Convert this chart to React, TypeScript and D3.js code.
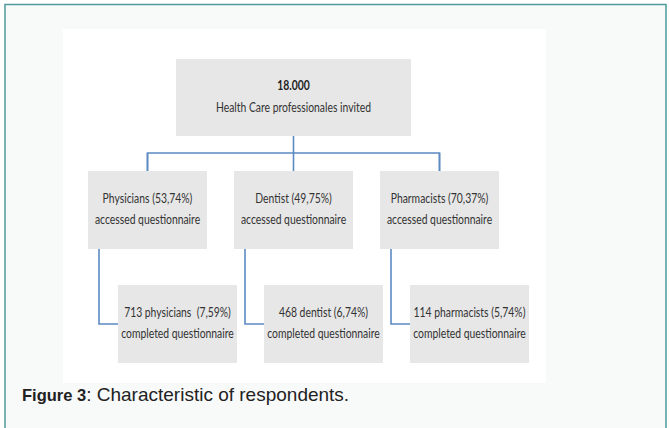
import { useEffect, useRef } from "react";
import * as d3 from "d3";

// flow chart values
const rootCount = "18.000";
const rootLabel = "Health Care professionales invited";
const groups = ["Physicians", "Dentist", "Pharmacists"];
const accessedPct = ["53,74%", "49,75%", "70,37%"];
const completedLabel = ["713 physicians  (7,59%)", "468 dentist (6,74%)", "114 pharmacists (5,74%)"];
const caption = ": Characteristic of respondents.";

const W = 669;
const H = 428;

export default function App() {
  const ref = useRef<SVGSVGElement>(null);

  useEffect(() => {
    document.body.style.margin = "0";
    const svg = d3.select(ref.current);
    svg.selectAll("*").remove();

    const font = "Lato, 'Noto Sans', sans-serif";
    const squeeze = 0.83; // box font is narrow (calibri-like)
    const boxFill = "#e7e7e7";
    const lineColor = "#5b8bc2";
    const textColor = "#333";

    // page background + border
    svg.append("rect").attr("x", 0).attr("y", 0).attr("width", W).attr("height", H).attr("fill", "#fff");
    svg.append("rect").attr("x", 5).attr("y", 4.5).attr("width", 661).attr("height", 440)
      .attr("fill", "#f8fafa").attr("stroke", "#4f9a9a").attr("stroke-width", 1.5);
    svg.append("rect").attr("x", 63).attr("y", 29).attr("width", 483).attr("height", 354).attr("fill", "#fff");

    const x = d3.scalePoint<string>().domain(groups).range([147.5, 439.5]);
    const bw = 119, bh = 78;
    const midY = 171, lowY = 285, lowOff = 30;

    const g = svg.append("g");

    const label = (cx: number, y: number, txt: string, bold = false) =>
      g.append("text")
        .attr("transform", `translate(${cx},${y}) scale(${squeeze},1)`)
        .attr("text-anchor", "middle")
        .attr("font-family", font).attr("font-size", 12.5)
        .attr("font-weight", bold ? "bold" : "normal")
        .attr("fill", bold ? "#222" : textColor)
        .style("white-space", "pre")
        .text(txt);

    // connectors
    const rootX = 293.5;
    g.append("line").attr("x1", rootX).attr("x2", rootX).attr("y1", 136).attr("y2", 153)
      .attr("stroke", lineColor).attr("stroke-width", 1.6);
    g.append("path")
      .attr("d", `M${x(groups[0])},${midY} V153 H${x(groups[groups.length - 1])} V${midY}`)
      .attr("fill", "none").attr("stroke", lineColor).attr("stroke-width", 1.6);
    groups.forEach((d) => {
      const cx = x(d)!;
      g.append("line").attr("x1", cx).attr("x2", cx).attr("y1", 153).attr("y2", midY)
        .attr("stroke", lineColor).attr("stroke-width", 1.6);
      const left = cx - bw / 2;
      g.append("path")
        .attr("d", `M${left + 11},${midY + bh} V${lowY + 39} H${left + lowOff}`)
        .attr("fill", "none").attr("stroke", lineColor).attr("stroke-width", 1.6);
    });

    // root box
    g.append("rect").attr("x", 176).attr("y", 59).attr("width", 235).attr("height", 77).attr("fill", boxFill);
    label(rootX, 90, rootCount, true);
    label(rootX, 112, rootLabel);

    // level 2 and 3 boxes
    groups.forEach((d, i) => {
      const cx = x(d)!;
      const left = cx - bw / 2;
      g.append("rect").attr("x", left).attr("y", midY).attr("width", bw).attr("height", bh).attr("fill", boxFill);
      label(cx, midY + 32, `${d} (${accessedPct[i]})`);
      label(cx, midY + 53, "accessed questionnaire");

      const lx = left + lowOff;
      g.append("rect").attr("x", lx).attr("y", lowY).attr("width", bw).attr("height", bh).attr("fill", boxFill);
      label(lx + bw / 2, lowY + 32, completedLabel[i]);
      label(lx + bw / 2, lowY + 53, "completed questionnaire");
    });

    // caption
    const cap = svg.append("text").attr("x", 22).attr("y", 401)
      .attr("font-family", "'Liberation Sans', Arial, sans-serif").attr("fill", "#222");
    cap.append("tspan").attr("font-weight", "bold").attr("font-size", 16.5).text("Figure 3");
    cap.append("tspan").attr("font-size", 19).text(caption);
  }, []);

  return (
    <div style={{ position: "absolute", left: 0, top: 0 }}>
      <svg ref={ref} width={W} height={H} style={{ display: "block" }} />
    </div>
  );
}
